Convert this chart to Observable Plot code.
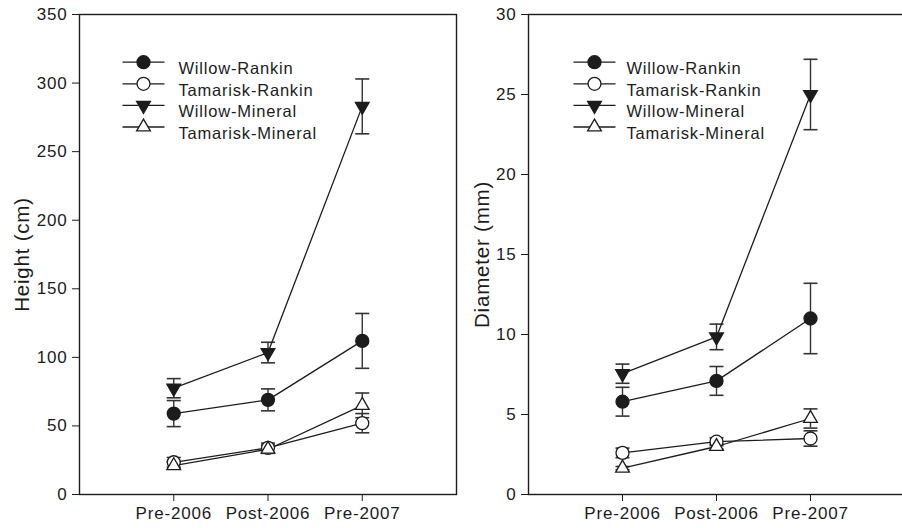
<!DOCTYPE html>
<html><head><meta charset="utf-8">
<script src="https://cdn.jsdelivr.net/npm/d3@7"></script>
<script src="https://cdn.jsdelivr.net/npm/@observablehq/plot@0.6"></script>
<style>
html,body{margin:0;padding:0;background:#fff;overflow:hidden;width:902px;height:528px;}
#wrap{position:relative;width:902px;height:528px;overflow:hidden;}
.panel{position:absolute;top:0;}
</style></head><body><div id="wrap"></div>
<script>
const categories = ["Pre-2006", "Post-2006", "Pre-2007"];
const seriesNames = ["Willow-Rankin", "Tamarisk-Rankin", "Willow-Mineral", "Tamarisk-Mineral"];

// Height (cm)
const heightWillowRankin = [59, 69, 112];
const heightWillowRankinErr = [9.5, 8, 20];
const heightTamariskRankin = [23.5, 34, 52];
const heightTamariskRankinErr = [3.5, 3.5, 7];
const heightWillowMineral = [77.5, 103.5, 283];
const heightWillowMineralErr = [7, 7.5, 20];
const heightTamariskMineral = [21, 33, 65];
const heightTamariskMineralErr = [2.5, 3, 9];
const heightTicks = [0, 50, 100, 150, 200, 250, 300, 350];

// Diameter (mm)
const diamWillowRankin = [5.8, 7.1, 11];
const diamWillowRankinErr = [0.9, 0.9, 2.2];
const diamTamariskRankin = [2.6, 3.3, 3.5];
const diamTamariskRankinErr = [0.3, 0.25, 0.48];
const diamWillowMineral = [7.55, 9.85, 25];
const diamWillowMineralErr = [0.6, 0.8, 2.2];
const diamTamariskMineral = [1.65, 3.0, 4.75];
const diamTamariskMineralErr = [0.1, 0.15, 0.6];
const diameterTicks = [0, 5, 10, 15, 20, 25, 30];

const FONT = '"Liberation Sans", Arial, Helvetica, sans-serif';
const INK = "#1c1c1c";

// custom symbols
const triUp = {draw(ctx, size) {
  const r = Math.sqrt(size / Math.PI) * 1.22;
  const h = r * 1.5;
  ctx.moveTo(0, -r);
  ctx.lineTo(r * Math.sqrt(3) / 2, h - r);
  ctx.lineTo(-r * Math.sqrt(3) / 2, h - r);
  ctx.closePath();
}};
const triDown = {draw(ctx, size) {
  const r = Math.sqrt(size / Math.PI) * 1.22;
  const h = r * 1.5;
  ctx.moveTo(0, r);
  ctx.lineTo(r * Math.sqrt(3) / 2, r - h);
  ctx.lineTo(-r * Math.sqrt(3) / 2, r - h);
  ctx.closePath();
}};
const hline = {draw(ctx, size) {
  const r = Math.sqrt(size / Math.PI);
  ctx.moveTo(-r, 0);
  ctx.lineTo(r, 0);
}};
const seriesSymbol = ["circle", "circle", triDown, triUp];
const seriesFill = [INK, "white", INK, "white"];

function rowsFor(means, errs) {
  const rows = [];
  seriesNames.forEach((s, si) => {
    means[si].forEach((v, i) => rows.push({series: s, si, x: i + 1, y: v, err: errs[si][i]}));
  });
  return rows;
}

function panel({rows, yDomain, yTicks, yLabel, width, marginLeft, marginRight, titleDx, legMarkDx, legTextDx}) {
  const marks = [
    Plot.frame({stroke: INK, strokeWidth: 1.4}),
    Plot.ruleX(rows, {x: "x", y1: d => d.y - d.err, y2: d => d.y + d.err, stroke: "#333", strokeWidth: 1.4}),
    Plot.dot(rows, {x: "x", y: d => d.y + d.err, symbol: hline, r: 7, fill: "none", stroke: "#333", strokeWidth: 1.6}),
    Plot.dot(rows, {x: "x", y: d => d.y - d.err, symbol: hline, r: 7, fill: "none", stroke: "#333", strokeWidth: 1.6}),
    Plot.line(rows, {x: "x", y: "y", z: "series", stroke: INK, strokeWidth: 1.3})
  ];
  seriesNames.forEach((s, si) => {
    marks.push(Plot.dot(rows.filter(d => d.si === si), {x: "x", y: "y", symbol: seriesSymbol[si], r: 6.5, fill: seriesFill[si], stroke: INK, strokeWidth: 1.3}));
  });
  // legend
  seriesNames.forEach((s, si) => {
    const dy = 47.7 + si * 21.6;
    marks.push(Plot.dot([s], {frameAnchor: "top-left", dx: legMarkDx, dy, symbol: hline, r: 21, fill: "none", stroke: INK, strokeWidth: 1.3}));
    marks.push(Plot.dot([s], {frameAnchor: "top-left", dx: legMarkDx, dy, symbol: seriesSymbol[si], r: 6.5, fill: seriesFill[si], stroke: INK, strokeWidth: 1.3}));
    marks.push(Plot.text([s], {frameAnchor: "top-left", dx: legTextDx, dy, text: d => d, textAnchor: "start", fontSize: 16.5, letterSpacing: "1.1px", fill: INK}));
  });
  marks.push(Plot.text([yLabel], {frameAnchor: "left", dx: titleDx, text: d => d, rotate: -90, textAnchor: "middle", fontSize: 20.5, fill: INK}));
  return Plot.plot({
    width, height: 528, marginTop: 14, marginBottom: 34, marginLeft, marginRight,
    x: {domain: [0, 4], ticks: [1, 2, 3], tickFormat: i => categories[i - 1], tickSize: 7, tickPadding: 5, label: null},
    y: {domain: yDomain, ticks: yTicks, tickSize: 7, tickPadding: 5, label: null},
    style: {fontFamily: FONT, fontSize: "17px", color: INK, background: "transparent", letterSpacing: "0.8px", overflow: "visible"},
    marks
  });
}

const wrap = document.getElementById("wrap");
const left = panel({
  rows: rowsFor([heightWillowRankin, heightTamariskRankin, heightWillowMineral, heightTamariskMineral],
                [heightWillowRankinErr, heightTamariskRankinErr, heightWillowMineralErr, heightTamariskMineralErr]),
  yDomain: [0, 350], yTicks: heightTicks, yLabel: "Height (cm)",
  width: 460, marginLeft: 79, marginRight: 4, titleDx: -57, legMarkDx: 64, legTextDx: 99
});
left.classList.add("panel"); left.style.left = "0px";
const right = panel({
  rows: rowsFor([diamWillowRankin, diamTamariskRankin, diamWillowMineral, diamTamariskMineral],
                [diamWillowRankinErr, diamTamariskRankinErr, diamWillowMineralErr, diamTamariskMineralErr]),
  yDomain: [0, 30], yTicks: diameterTicks, yLabel: "Diameter (mm)",
  width: 444, marginLeft: 68, marginRight: 0, titleDx: -46, legMarkDx: 66, legTextDx: 98
});
right.classList.add("panel"); right.style.left = "460px";
wrap.appendChild(left);
wrap.appendChild(right);
</script></body></html>
